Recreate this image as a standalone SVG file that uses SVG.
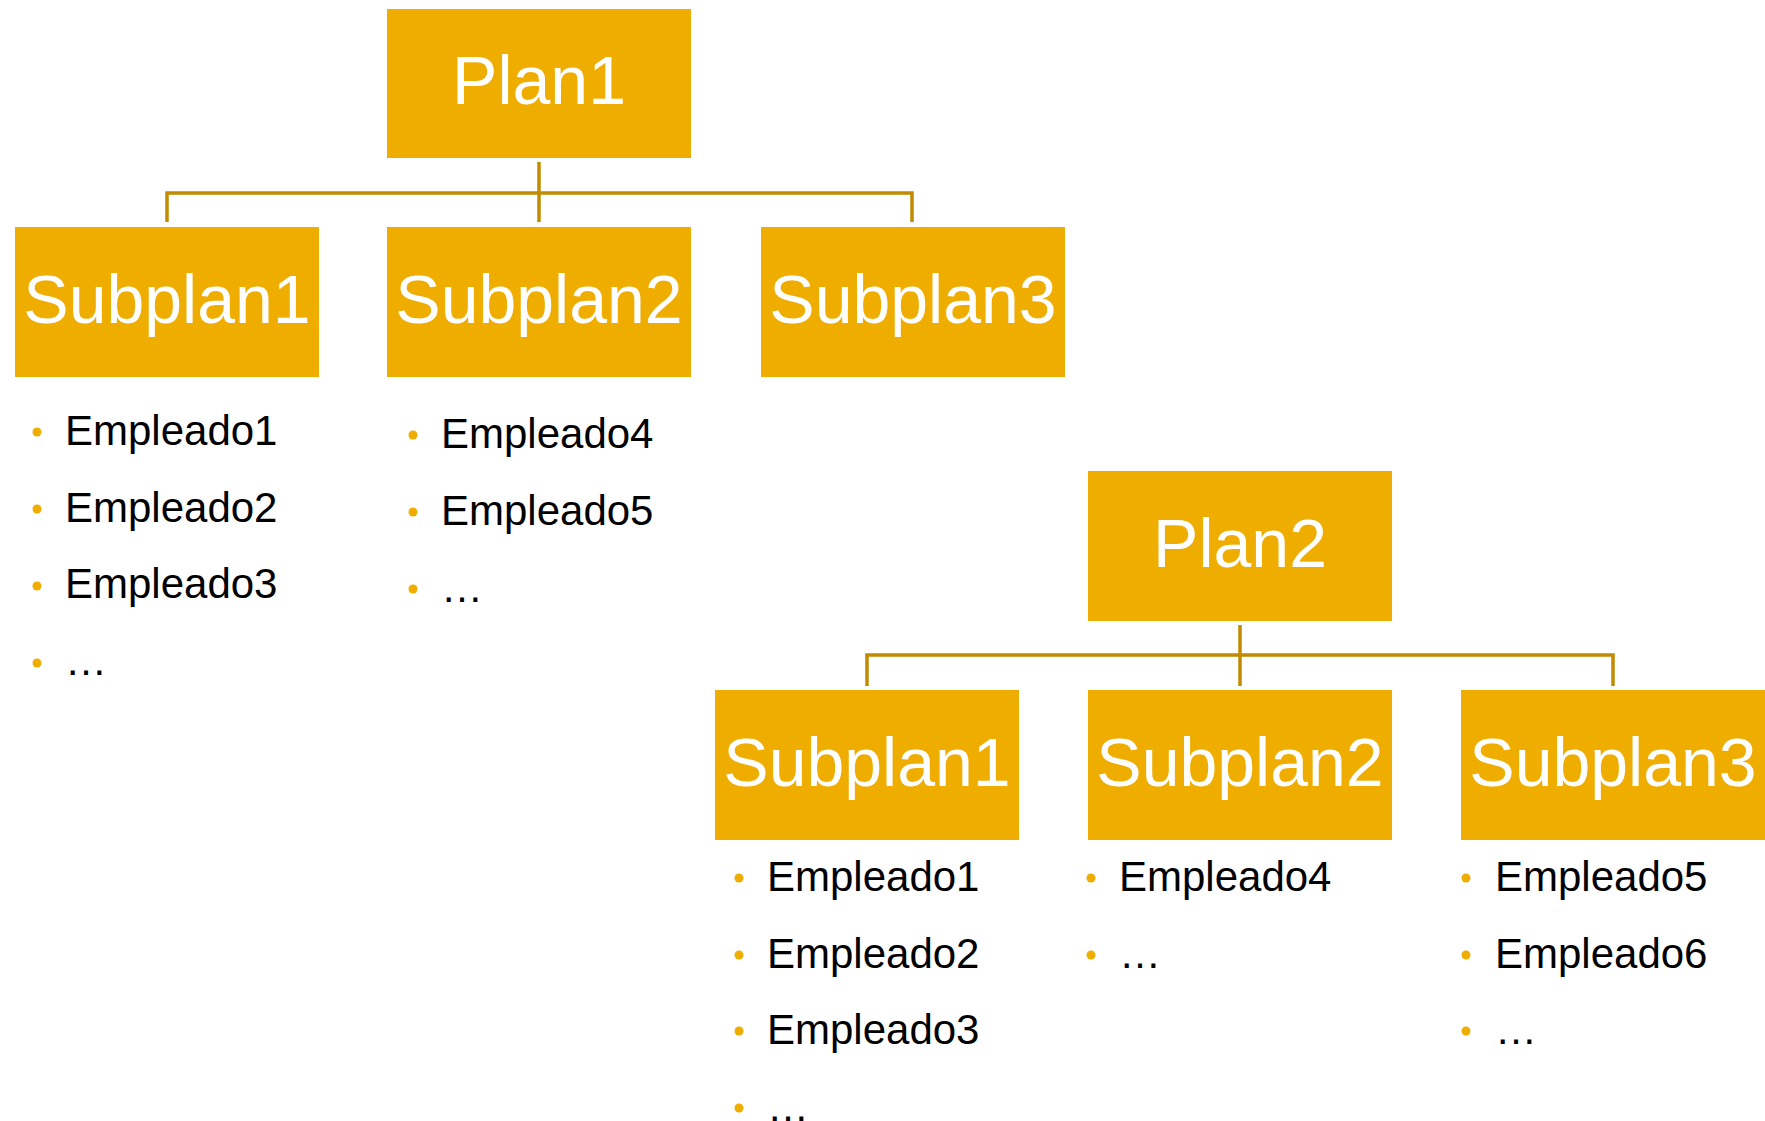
<svg xmlns="http://www.w3.org/2000/svg" width="1765" height="1121" viewBox="0 0 1765 1121">
<style>
.box{fill:#EFAD00;}
.t{font-family:"Liberation Sans",Arial,sans-serif;font-size:68px;fill:#FFFFFF;text-anchor:middle;}
.e{font-family:"Liberation Sans",Arial,sans-serif;font-size:42px;fill:#000000;}
.b{fill:#EFAD00;}
.c{fill:none;stroke:#C08B00;stroke-width:3.5;}
</style>
<rect width="1765" height="1121" fill="#FFFFFF"/>
<g id="connectors">
<path class="c" d="M539 162 V222"/>
<path class="c" d="M167 222 V193 H912 V222"/>
<path class="c" d="M1240 625 V686"/>
<path class="c" d="M867 686 V655 H1613 V686"/>
</g>
<g id="plan1"><rect class="box" x="387" y="9" width="304" height="149"/><text class="t" x="539" y="104">Plan1</text></g>
<g id="p1-subplan1"><rect class="box" x="15" y="227" width="304" height="150"/><text class="t" x="167" y="323">Subplan1</text></g>
<g id="p1-subplan2"><rect class="box" x="387" y="227" width="304" height="150"/><text class="t" x="539" y="323">Subplan2</text></g>
<g id="p1-subplan3"><rect class="box" x="761" y="227" width="304" height="150"/><text class="t" x="913" y="323">Subplan3</text></g>
<g id="plan2"><rect class="box" x="1088" y="471" width="304" height="150"/><text class="t" x="1240" y="567">Plan2</text></g>
<g id="p2-subplan1"><rect class="box" x="715" y="690" width="304" height="150"/><text class="t" x="867" y="786">Subplan1</text></g>
<g id="p2-subplan2"><rect class="box" x="1088" y="690" width="304" height="150"/><text class="t" x="1240" y="786">Subplan2</text></g>
<g id="p2-subplan3"><rect class="box" x="1461" y="690" width="304" height="150"/><text class="t" x="1613" y="786">Subplan3</text></g>
<g id="list-p1-s1">
<circle class="b" cx="37" cy="432" r="4.5"/><text class="e" x="65" y="445">Empleado1</text>
<circle class="b" cx="37" cy="509" r="4.5"/><text class="e" x="65" y="522">Empleado2</text>
<circle class="b" cx="37" cy="586" r="4.5"/><text class="e" x="65" y="598">Empleado3</text>
<circle class="b" cx="37" cy="663" r="4.5"/><text class="e" x="65" y="675">…</text>
</g>
<g id="list-p1-s2">
<circle class="b" cx="413" cy="435" r="4.5"/><text class="e" x="441" y="448">Empleado4</text>
<circle class="b" cx="413" cy="512" r="4.5"/><text class="e" x="441" y="525">Empleado5</text>
<circle class="b" cx="413" cy="589" r="4.5"/><text class="e" x="441" y="602">…</text>
</g>
<g id="list-p2-s1">
<circle class="b" cx="739" cy="878" r="4.5"/><text class="e" x="767" y="891">Empleado1</text>
<circle class="b" cx="739" cy="955" r="4.5"/><text class="e" x="767" y="968">Empleado2</text>
<circle class="b" cx="739" cy="1031" r="4.5"/><text class="e" x="767" y="1044">Empleado3</text>
<circle class="b" cx="739" cy="1108" r="4.5"/><text class="e" x="767" y="1121">…</text>
</g>
<g id="list-p2-s2">
<circle class="b" cx="1091" cy="878" r="4.5"/><text class="e" x="1119" y="891">Empleado4</text>
<circle class="b" cx="1091" cy="955" r="4.5"/><text class="e" x="1119" y="968">…</text>
</g>
<g id="list-p2-s3">
<circle class="b" cx="1466" cy="878" r="4.5"/><text class="e" x="1495" y="891">Empleado5</text>
<circle class="b" cx="1466" cy="955" r="4.5"/><text class="e" x="1495" y="968">Empleado6</text>
<circle class="b" cx="1466" cy="1031" r="4.5"/><text class="e" x="1495" y="1044">…</text>
</g>
</svg>
